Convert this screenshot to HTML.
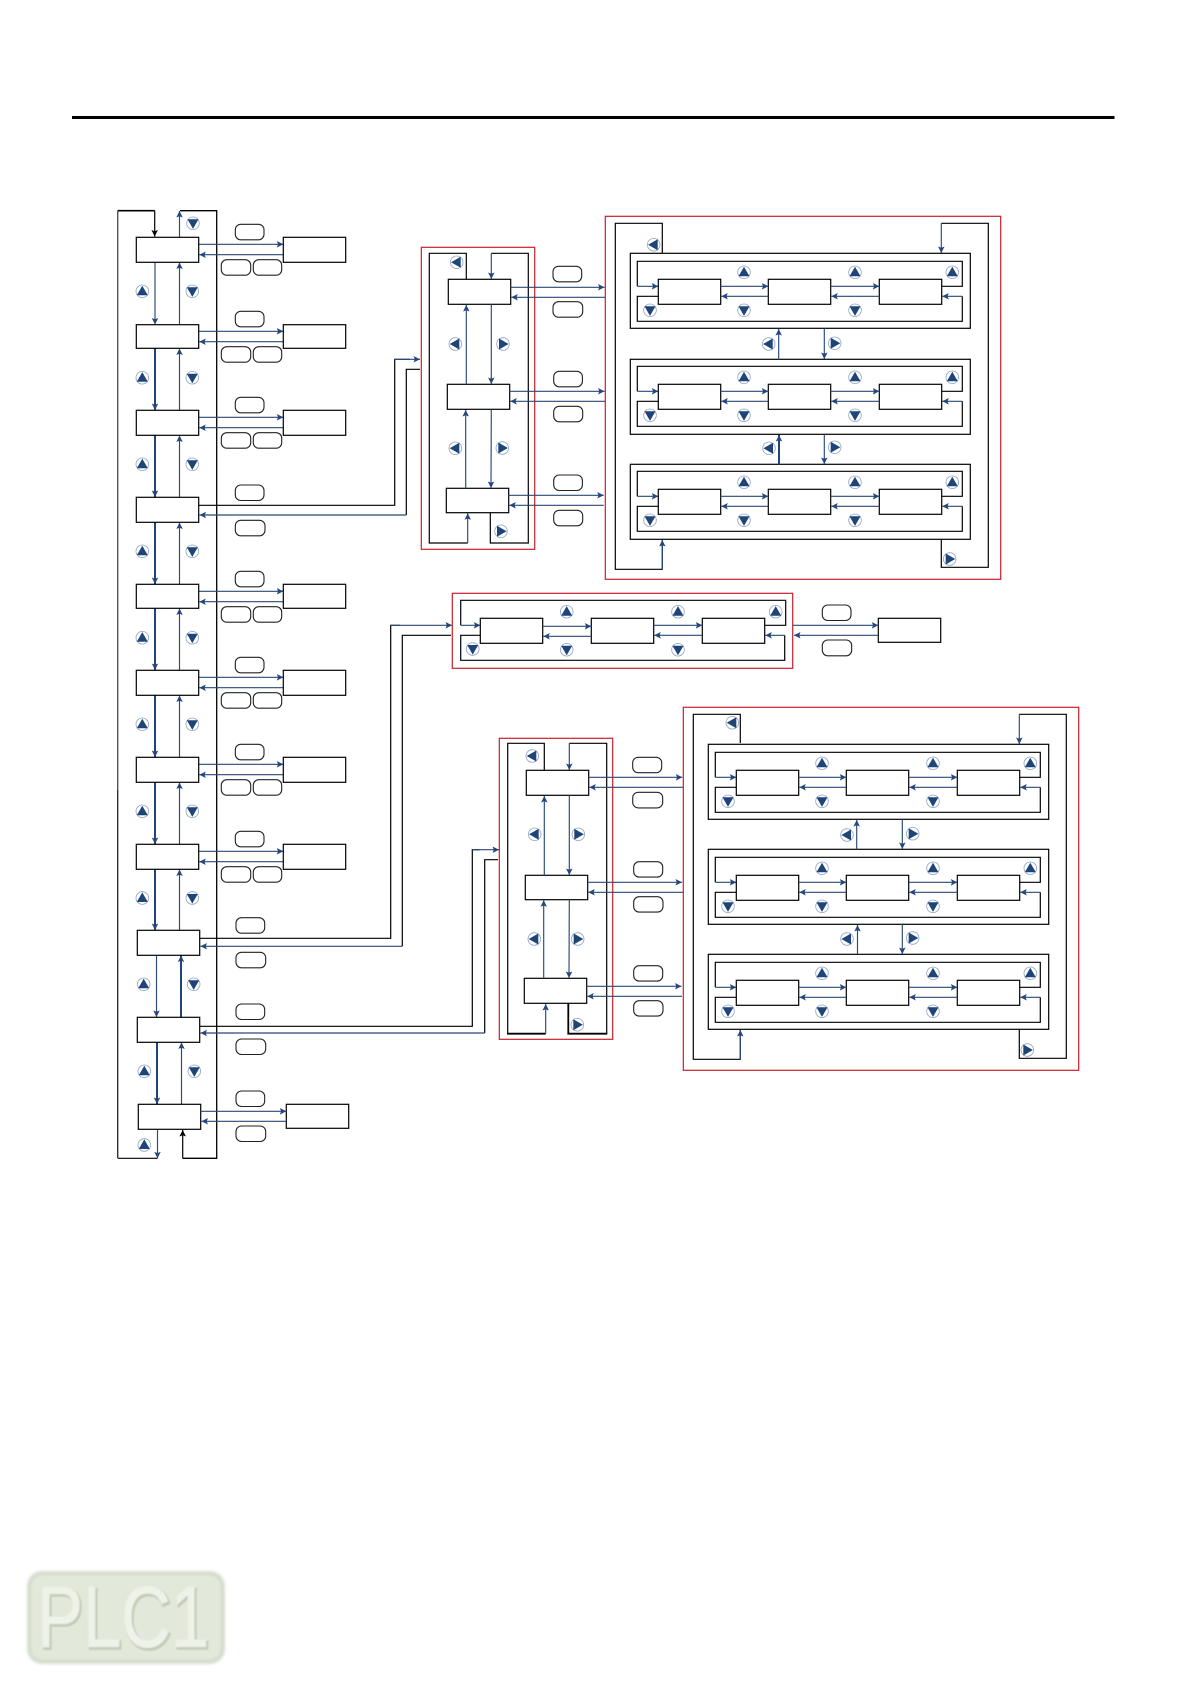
<!DOCTYPE html>
<html><head><meta charset="utf-8"><title>Diagram</title>
<style>
html,body{margin:0;padding:0;background:#fff}
svg{display:block}
.k{fill:none;stroke:#000;stroke-width:1.2}
.r{fill:#fff;stroke:#000;stroke-width:1.2}
.p{fill:#fff;stroke:#222;stroke-width:1.1}
.b{fill:none;stroke:#2a4a75;stroke-width:1.15;marker-end:url(#m)}
.t{fill:none;stroke:#1f4478;stroke-width:2;marker-end:url(#m)}
.red{fill:none;stroke:#c8202a;stroke-width:1.2}
</style></head><body>
<svg xmlns="http://www.w3.org/2000/svg" width="1191" height="1684" viewBox="0 0 1191 1684">
<defs>
<marker id="m" markerUnits="userSpaceOnUse" markerWidth="8" markerHeight="8" refX="6.5" refY="3.25" orient="auto"><path d="M0,0L6.5,3.25L0,6.5L1.3,3.25z" fill="#24467c"/></marker>
<marker id="mk" markerUnits="userSpaceOnUse" markerWidth="8" markerHeight="8" refX="6.5" refY="3.25" orient="auto"><path d="M0,0L6.5,3.25L0,6.5L1.3,3.25z" fill="#000"/></marker>
<filter id="bl" x="-10%" y="-10%" width="120%" height="120%"><feGaussianBlur stdDeviation="1.6"/></filter>
<filter id="bs"><feGaussianBlur stdDeviation=".7"/></filter>
<g id="u"><circle r="6.3" fill="#fff" stroke="#8ea3c4" stroke-width=".8"/><path d="M0,-5.6L5.5,4L-5.5,4z" fill="#1f4478"/></g>
<g id="d"><circle r="6.3" fill="#fff" stroke="#8ea3c4" stroke-width=".8"/><path d="M0,5.6L5.5,-4L-5.5,-4z" fill="#1f4478"/></g>
<g id="l"><circle r="6.3" fill="#fff" stroke="#8ea3c4" stroke-width=".8"/><path d="M-5.6,0L4,-5.5L4,5.5z" fill="#1f4478"/></g>
<g id="g"><circle r="6.3" fill="#fff" stroke="#8ea3c4" stroke-width=".8"/><path d="M5.6,0L-4,-5.5L-4,5.5z" fill="#1f4478"/></g>

<g id="S">
<line class="b" x1="62.4" y1="7" x2="147" y2="7"/>
<line class="b" x1="147" y1="17.4" x2="63" y2="17.4"/>
<rect class="p" x="99" y="-13" width="28.7" height="15.5" rx="5.5"/>
<rect class="p" x="85" y="22.4" width="29.4" height="15.5" rx="5.5"/>
<rect class="p" x="117" y="22.4" width="28.4" height="15.5" rx="5.5"/>
</g>

<g id="R">
<path class="k" d="M7,33V8H332V33H311.4"/>
<path class="k" d="M28,43H7V68H332V43"/>
<line class="b" x1="7" y1="33" x2="28" y2="33"/>
<line class="b" x1="332" y1="43" x2="312" y2="43"/>
<rect class="r" x="28" y="26" width="62.4" height="25"/>
<rect class="r" x="138" y="26" width="62.4" height="25"/>
<rect class="r" x="249" y="26" width="62.4" height="25"/>
<line class="b" x1="90.4" y1="33" x2="138" y2="33"/>
<line class="b" x1="138" y1="43" x2="91" y2="43"/>
<line class="b" x1="200.4" y1="33" x2="249" y2="33"/>
<line class="b" x1="249" y1="43" x2="201" y2="43"/>
<use href="#u" x="113.7" y="19"/><use href="#u" x="224.7" y="19"/><use href="#u" x="322" y="19"/>
<use href="#d" x="19.7" y="57"/><use href="#d" x="113.7" y="57"/><use href="#d" x="224.7" y="57"/>
</g>
</defs>

<rect width="1191" height="1684" fill="#fff"/>
<rect x="72" y="116" width="1042.5" height="3" fill="#000"/>

<!-- left column frame -->
<line x1="117.7" y1="210.7" x2="117.7" y2="790" stroke="#555" stroke-width="1.4"/>
<line x1="117.7" y1="790" x2="117.7" y2="1158.3" stroke="#222" stroke-width="1.3"/>
<path d="M117.7,210.7H154.7" fill="none" stroke="#000" stroke-width="1.6"/>
<line x1="154.7" y1="210.7" x2="154.7" y2="236.5" stroke="#000" stroke-width="1.2" marker-end="url(#mk)"/>
<path d="M180,210.7H216.7V1158.3H182.7" fill="none" stroke="#000" stroke-width="1.3"/>
<line x1="182.7" y1="1158.3" x2="182.7" y2="1130" stroke="#000" stroke-width="1.2" marker-end="url(#mk)"/>
<path class="k" d="M118,1158.3H157.5"/>
<line class="b" x1="157.5" y1="1129.3" x2="157.5" y2="1158.3"/>
<line class="b" x1="179.5" y1="237" x2="179.5" y2="211"/>

<!-- left column vertical arrows -->
<line class="b" x1="155" y1="262.3" x2="155" y2="324.5"/>
<line class="t" x1="155" y1="348.3" x2="155" y2="410"/>
<line class="t" x1="155" y1="435.3" x2="155" y2="497"/>
<line class="t" x1="155" y1="522.3" x2="155" y2="584"/>
<line class="t" x1="155" y1="608.3" x2="155" y2="670"/>
<line class="t" x1="155" y1="695.3" x2="155" y2="757"/>
<line class="t" x1="155" y1="782.3" x2="155" y2="844"/>
<line class="t" x1="155" y1="869.3" x2="155" y2="930"/>
<line class="b" x1="156.5" y1="955.3" x2="156.5" y2="1017"/>
<line class="t" x1="157" y1="1042.3" x2="157" y2="1104"/>
<line class="b" x1="179.5" y1="324.7" x2="179.5" y2="262.5"/>
<line class="b" x1="179.5" y1="410.3" x2="179.5" y2="348.5"/>
<line class="b" x1="179.5" y1="497.3" x2="179.5" y2="435.5"/>
<line class="b" x1="179.5" y1="584.3" x2="179.5" y2="522.5"/>
<line class="b" x1="179.5" y1="670.3" x2="179.5" y2="608.5"/>
<line class="b" x1="179.5" y1="757.3" x2="179.5" y2="695.5"/>
<line class="b" x1="179.5" y1="844.3" x2="179.5" y2="782.5"/>
<line class="b" x1="179.5" y1="930.3" x2="179.5" y2="869.5"/>
<line class="t" x1="181" y1="1017.3" x2="181" y2="955.5"/>
<line class="b" x1="181.5" y1="1104.3" x2="181.5" y2="1042.5"/>

<!-- left column rows with pills/side arrows -->
<use href="#S" x="136.3" y="237.3"/><use href="#S" x="136.3" y="324.3"/><use href="#S" x="136.3" y="410.3"/>
<use href="#S" x="136.3" y="584.3"/><use href="#S" x="136.3" y="670.3"/><use href="#S" x="136.3" y="757.3"/><use href="#S" x="136.3" y="844.3"/>

<!-- left boxes -->
<rect class="r" x="136.3" y="237.3" width="62.4" height="25"/>
<rect class="r" x="136.3" y="324.7" width="62.4" height="23.6"/>
<rect class="r" x="136.3" y="410.3" width="62.4" height="25"/>
<rect class="r" x="136.3" y="497.3" width="62.4" height="25"/>
<rect class="r" x="136.3" y="584.3" width="62.4" height="24"/>
<rect class="r" x="136.3" y="670.3" width="62.4" height="25"/>
<rect class="r" x="136.3" y="757.3" width="62.4" height="25"/>
<rect class="r" x="136.3" y="844.3" width="62.4" height="25"/>
<rect class="r" x="137.3" y="930.3" width="62.4" height="25"/>
<rect class="r" x="137.3" y="1017.3" width="62.4" height="25"/>
<rect class="r" x="138.3" y="1104.3" width="62.4" height="25"/>
<!-- right boxes -->
<rect class="r" x="283.3" y="237.3" width="62.4" height="25"/>
<rect class="r" x="283.3" y="324.7" width="62.4" height="23.6"/>
<rect class="r" x="283.3" y="410.3" width="62.4" height="25"/>
<rect class="r" x="283.3" y="584.3" width="62.4" height="24"/>
<rect class="r" x="283.3" y="670.3" width="62.4" height="25"/>
<rect class="r" x="283.3" y="757.3" width="62.4" height="25"/>
<rect class="r" x="283.3" y="844.3" width="62.4" height="25"/>
<rect class="r" x="286.3" y="1104.3" width="62.4" height="24"/>

<!-- left circles -->
<use href="#d" x="193" y="223.3"/>
<use href="#u" x="142.3" y="291.3"/><use href="#d" x="192.3" y="291.3"/>
<use href="#u" x="142.3" y="377.7"/><use href="#d" x="192.3" y="377.7"/>
<use href="#u" x="142.3" y="464.3"/><use href="#d" x="192.3" y="464.3"/>
<use href="#u" x="142.3" y="551.3"/><use href="#d" x="192.3" y="551.3"/>
<use href="#u" x="142.3" y="637.7"/><use href="#d" x="192.3" y="637.7"/>
<use href="#u" x="142.3" y="724.3"/><use href="#d" x="192.3" y="724.3"/>
<use href="#u" x="142.3" y="811.3"/><use href="#d" x="192.3" y="811.3"/>
<use href="#u" x="142.3" y="898"/><use href="#d" x="192.3" y="898"/>
<use href="#u" x="143.7" y="984.3"/><use href="#d" x="193.7" y="984.3"/>
<use href="#u" x="144.3" y="1071.3"/><use href="#d" x="194.3" y="1071.3"/>
<use href="#u" x="144.3" y="1145"/>

<!-- extra pills -->
<rect class="p" x="235.3" y="485" width="28.7" height="15.5" rx="5.5"/>
<rect class="p" x="235.3" y="520.3" width="29.7" height="15.5" rx="5.5"/>
<rect class="p" x="236" y="917.7" width="28.7" height="15.5" rx="5.5"/>
<rect class="p" x="236" y="952.3" width="29.7" height="15.5" rx="5.5"/>
<rect class="p" x="236" y="1004" width="28.7" height="15.5" rx="5.5"/>
<rect class="p" x="236" y="1039" width="29.7" height="15.5" rx="5.5"/>
<rect class="p" x="236" y="1091" width="28.7" height="15.5" rx="5.5"/>
<rect class="p" x="236" y="1126" width="29.7" height="15.5" rx="5.5"/>

<!-- box 11 side arrows -->
<line class="b" x1="200.7" y1="1111.3" x2="286.3" y2="1111.3"/>
<line class="b" x1="286.3" y1="1121.3" x2="201.5" y2="1121.3"/>

<!-- long connectors -->
<path class="k" d="M198.7,505.3H394.7V359.3H410"/>
<line class="b" x1="394.7" y1="359.3" x2="420" y2="359.3"/>
<path class="k" d="M406.3,515V369.3H420"/>
<line class="b" x1="406.3" y1="515" x2="199.5" y2="515"/>
<path class="k" d="M199.7,938.3H390.7V625.3H400"/>
<line class="b" x1="390.7" y1="625.3" x2="452" y2="625.3"/>
<path class="k" d="M402.3,946.3V635.3H451"/>
<line class="b" x1="402.3" y1="946.3" x2="200.5" y2="946.3"/>
<path class="k" d="M199.7,1026.3H472.3V849.7H480"/>
<line class="b" x1="472.3" y1="849.7" x2="499" y2="849.7"/>
<path class="k" d="M484.7,1033V859.7H498"/>
<line class="b" x1="484.7" y1="1033" x2="200.5" y2="1033"/>

<!-- Panel A -->
<rect class="red" x="421.3" y="247.3" width="113.4" height="302"/>
<path class="k" d="M466.3,279.3V253.3H429.3V543H467.7"/>
<path class="k" d="M491.3,253.3H528.3V543H490.3V512.7"/>
<line class="b" x1="491.3" y1="253.3" x2="491.3" y2="279"/>
<line class="b" x1="467.7" y1="543" x2="467.7" y2="513.3"/>
<rect class="r" x="448.3" y="279.3" width="62.4" height="25"/>
<rect class="r" x="447.3" y="384.3" width="62.4" height="25"/>
<rect class="r" x="446.3" y="488.3" width="62.4" height="24.4"/>
<line class="b" x1="466.3" y1="384.3" x2="466.3" y2="305"/>
<line class="b" x1="465.7" y1="488.3" x2="465.7" y2="410"/>
<line class="b" x1="491.3" y1="304.3" x2="491.3" y2="384"/>
<line class="b" x1="491.3" y1="409.3" x2="491" y2="488"/>
<use href="#l" x="456.7" y="262.3"/><use href="#l" x="455.3" y="344"/><use href="#g" x="503" y="344"/>
<use href="#l" x="455.3" y="448.3"/><use href="#g" x="502.3" y="448"/><use href="#g" x="501" y="531.3"/>
<line class="b" x1="510.7" y1="287.3" x2="604.5" y2="287.3"/>
<line class="b" x1="605.3" y1="297.3" x2="511.3" y2="297.3"/>
<line class="b" x1="509.7" y1="391.3" x2="604.5" y2="391.3"/>
<line class="b" x1="605.3" y1="401.3" x2="510.3" y2="401.3"/>
<line class="b" x1="508.7" y1="495.3" x2="603.7" y2="495.3"/>
<line class="b" x1="603.7" y1="505.3" x2="509.3" y2="505.3"/>
<rect class="p" x="553" y="266.3" width="28.7" height="15.5" rx="5.5"/>
<rect class="p" x="553" y="301.7" width="29.7" height="15.5" rx="5.5"/>
<rect class="p" x="553.7" y="371.3" width="28.7" height="15.5" rx="5.5"/>
<rect class="p" x="553.7" y="406.3" width="29" height="15.5" rx="5.5"/>
<rect class="p" x="553.7" y="475" width="28.7" height="15.5" rx="5.5"/>
<rect class="p" x="553.7" y="510.3" width="29" height="15.5" rx="5.5"/>

<!-- Panel B -->
<rect class="red" x="605.3" y="216.3" width="395.4" height="363"/>
<path class="k" d="M662.3,253.3V223.3H615.3V569.3H662.3V539.3"/>
<path class="k" d="M941.3,223.3H988.3V567.3H941.3V539.3"/>
<line class="b" x1="941.3" y1="223.3" x2="941.3" y2="253"/>
<line class="b" x1="662.3" y1="569.3" x2="662.3" y2="540"/>
<rect class="r" x="630.3" y="253.3" width="340" height="75"/>
<rect class="r" x="630.3" y="359.3" width="340" height="75"/>
<rect class="r" x="630.3" y="464.3" width="340" height="75"/>
<use href="#R" x="630.3" y="253.3"/><use href="#R" x="630.3" y="358.3"/><use href="#R" x="630.3" y="463.3"/>
<line class="b" x1="778.7" y1="359.3" x2="778.7" y2="329"/>
<line class="t" x1="779" y1="464.3" x2="779" y2="435"/>
<line class="b" x1="824.3" y1="328.3" x2="824.3" y2="359"/>
<line class="b" x1="824.3" y1="434.3" x2="824.3" y2="464"/>
<use href="#l" x="768.7" y="344"/><use href="#l" x="769" y="448.3"/>
<use href="#g" x="834.7" y="343.3"/><use href="#g" x="834.7" y="447.3"/>
<use href="#l" x="653.7" y="244.7"/><use href="#g" x="949.7" y="559"/>

<!-- Middle panel -->
<rect class="red" x="452.3" y="593.3" width="340.4" height="75"/>
<path class="k" d="M460.7,625.3V600.3H785.7V625.3H764.7"/>
<path class="k" d="M480.3,635.3H460.7V660.3H784.7V635.3"/>
<line class="b" x1="460.7" y1="625.3" x2="480.3" y2="625.3"/>
<line class="b" x1="784.7" y1="635.3" x2="765.3" y2="635.3"/>
<rect class="r" x="480.3" y="618.3" width="62.4" height="25"/>
<rect class="r" x="591.3" y="618.3" width="62.4" height="25"/>
<rect class="r" x="702.3" y="618.3" width="62.4" height="25"/>
<rect class="r" x="878.3" y="618.3" width="62.4" height="24"/>
<line class="b" x1="542.7" y1="626.3" x2="591.3" y2="626.3"/>
<line class="b" x1="591.3" y1="636.3" x2="543.3" y2="636.3"/>
<line class="b" x1="653.7" y1="625.3" x2="702.3" y2="625.3"/>
<line class="b" x1="702.3" y1="635.3" x2="654.3" y2="635.3"/>
<line class="b" x1="792.7" y1="625.3" x2="878.3" y2="625.3"/>
<line class="b" x1="878.3" y1="635.3" x2="794" y2="635.3"/>
<rect class="p" x="822.3" y="605" width="28.7" height="15.5" rx="5.5"/>
<rect class="p" x="822.3" y="640" width="29.4" height="15.8" rx="5.5"/>
<use href="#u" x="566.7" y="611.7"/><use href="#u" x="678" y="611.7"/><use href="#u" x="775.7" y="611.7"/>
<use href="#d" x="472.7" y="649"/><use href="#d" x="566.7" y="649.7"/><use href="#d" x="678" y="649.7"/>

<!-- Panel C -->
<rect class="red" x="499.3" y="738.3" width="113.4" height="301"/>
<path class="k" d="M544.3,770.3V743.3H507.7V1033.7"/>
<path class="k" d="M569.3,743.3H606.7V1033.7"/>
<line x1="507" y1="1033.7" x2="545.7" y2="1033.7" stroke="#000" stroke-width="1.8"/>
<path d="M607.3,1033.7H568.3V1003.3" fill="none" stroke="#000" stroke-width="1.8"/>
<line class="b" x1="569.3" y1="743.3" x2="569.3" y2="770"/>
<line class="b" x1="545.7" y1="1033.7" x2="545.7" y2="1004"/>
<rect class="r" x="526.3" y="770.3" width="62.4" height="25"/>
<rect class="r" x="525.3" y="875.3" width="62.4" height="24.4"/>
<rect class="r" x="524.3" y="978.3" width="62.4" height="25"/>
<line class="b" x1="544.3" y1="875.3" x2="544.3" y2="796"/>
<line class="b" x1="543.7" y1="978.3" x2="543.7" y2="900.3"/>
<line class="b" x1="569.3" y1="795.3" x2="569.3" y2="875"/>
<line class="b" x1="569.3" y1="899.7" x2="569" y2="978"/>
<use href="#l" x="532.3" y="756"/><use href="#l" x="534.7" y="834.3"/><use href="#g" x="578.3" y="834.3"/>
<use href="#l" x="534.3" y="939"/><use href="#g" x="577.7" y="939"/><use href="#g" x="577.3" y="1024.7"/>
<line class="b" x1="588.7" y1="777.3" x2="682.3" y2="777.3"/>
<line class="b" x1="683.3" y1="787.3" x2="589.3" y2="787.3"/>
<line class="b" x1="587.7" y1="882.3" x2="682" y2="882.3"/>
<line class="b" x1="683" y1="892.3" x2="588.3" y2="892.3"/>
<line class="b" x1="586.7" y1="986.3" x2="681.5" y2="986.3"/>
<line class="b" x1="682" y1="996.3" x2="587.3" y2="996.3"/>
<rect class="p" x="632.7" y="757.3" width="29" height="15.4" rx="5.5"/>
<rect class="p" x="632.7" y="792.3" width="30" height="15.6" rx="5.5"/>
<rect class="p" x="633.7" y="861.7" width="29" height="15.4" rx="5.5"/>
<rect class="p" x="633.7" y="896.7" width="29.3" height="15.4" rx="5.5"/>
<rect class="p" x="633.7" y="965.7" width="29" height="15.4" rx="5.5"/>
<rect class="p" x="633.7" y="1000.7" width="29.3" height="15.4" rx="5.5"/>

<!-- Panel D -->
<rect class="red" x="683.3" y="707.3" width="395.4" height="363"/>
<path class="k" d="M740.3,743V714.3H693.3V1059.3H740.3V1030"/>
<path class="k" d="M1019.3,714.3H1066.3V1058.3H1019.3V1029.3"/>
<line class="b" x1="1019.3" y1="714.3" x2="1019.3" y2="744"/>
<line class="b" x1="740.3" y1="1059.3" x2="740.3" y2="1030"/>
<rect class="r" x="708.3" y="744.3" width="340.4" height="75"/>
<rect class="r" x="708.3" y="849.3" width="340.4" height="75"/>
<rect class="r" x="708.3" y="954.3" width="340.4" height="75"/>
<use href="#R" x="708.3" y="744.3"/><use href="#R" x="708.3" y="849.3"/><use href="#R" x="708.3" y="954.3"/>
<line class="b" x1="856.7" y1="849.3" x2="856.7" y2="820"/>
<line class="b" x1="857.5" y1="954.3" x2="857.5" y2="925"/>
<line class="b" x1="902.3" y1="819.3" x2="902.3" y2="849"/>
<line class="b" x1="902.3" y1="924.3" x2="902.3" y2="954"/>
<use href="#l" x="847" y="835"/><use href="#l" x="847" y="939"/>
<use href="#g" x="912.7" y="833.7"/><use href="#g" x="912.7" y="938"/>
<use href="#l" x="732.3" y="722.7"/><use href="#g" x="1027.3" y="1050"/>

<!-- Watermark -->
<rect x="29" y="1573" width="194" height="89" rx="13" fill="#e2e8da" stroke="#cbd4c0" stroke-width="3" filter="url(#bl)"/>
<text x="38.5" y="1648.5" font-family="'Liberation Sans',sans-serif" font-size="86" textLength="172" lengthAdjust="spacingAndGlyphs" fill="#c2cbb6" stroke="#c2cbb6" stroke-width="2.5" filter="url(#bs)">PLC1</text>
<text x="37" y="1646.5" font-family="'Liberation Sans',sans-serif" font-size="86" textLength="172" lengthAdjust="spacingAndGlyphs" fill="#eef2e8" stroke="#eef2e8" stroke-width="1.2" filter="url(#bs)">PLC1</text>
</svg>
</body></html>
